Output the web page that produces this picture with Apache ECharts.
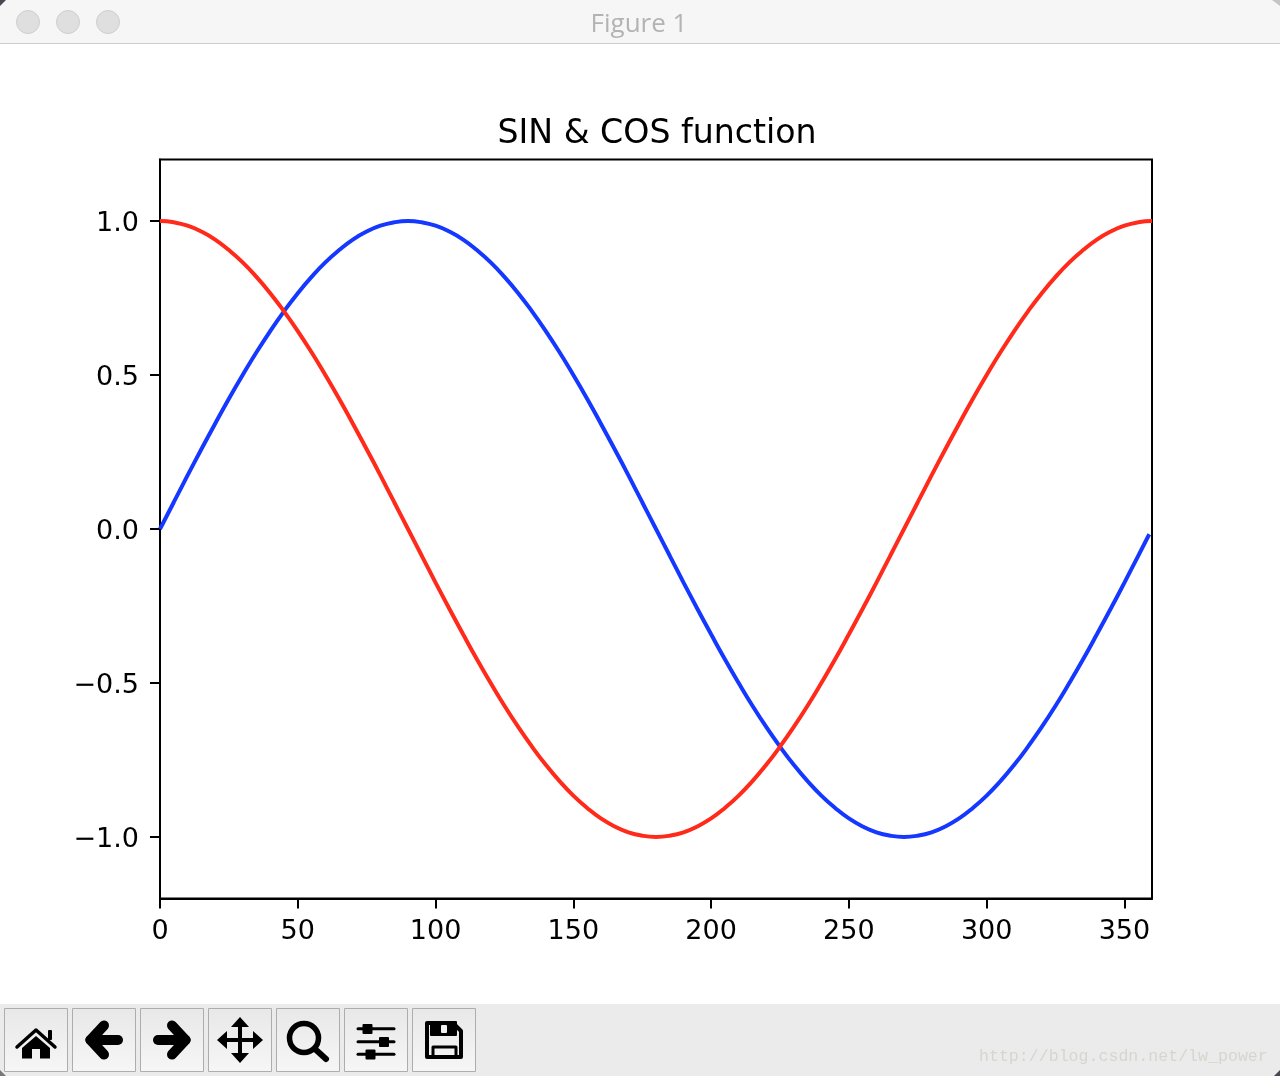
<!DOCTYPE html>
<html>
<head>
<meta charset="utf-8">
<title>SIN & COS function</title>
<script src="https://cdn.jsdelivr.net/npm/echarts@6/dist/echarts.min.js"></script>
<style>
  html, body { margin: 0; padding: 0; background: #fff; }
  #main { width: 1280px; height: 1076px; }
</style>
</head>
<body>
<div id="main"></div>
<script>
const angles = [0,5,10,15,20,25,30,35,40,45,50,55,60,65,70,75,80,85,90,95,100,105,110,115,120,125,130,135,140,145,150,155,160,165,170,175,180,185,190,195,200,205,210,215,220,225,230,235,240,245,250,255,260,265,270,275,280,285,290,295,300,305,310,315,320,325,330,335,340,345,350,355,359];
const sinValues = [0,.087,.174,.259,.342,.423,.5,.574,.643,.707,.766,.819,.866,.906,.94,.966,.985,.996,1,.996,.985,.966,.94,.906,.866,.819,.766,.707,.643,.574,.5,.423,.342,.259,.174,.087,0,-.087,-.174,-.259,-.342,-.423,-.5,-.574,-.643,-.707,-.766,-.819,-.866,-.906,-.94,-.966,-.985,-.996,-1,-.996,-.985,-.966,-.94,-.906,-.866,-.819,-.766,-.707,-.643,-.574,-.5,-.423,-.342,-.259,-.174,-.087,-.017];
const cosValues = [1,.996,.985,.966,.94,.906,.866,.819,.766,.707,.643,.574,.5,.423,.342,.259,.174,.087,0,-.087,-.174,-.259,-.342,-.423,-.5,-.574,-.643,-.707,-.766,-.819,-.866,-.906,-.94,-.966,-.985,-.996,-1,-.996,-.985,-.966,-.94,-.906,-.866,-.819,-.766,-.707,-.643,-.574,-.5,-.423,-.342,-.259,-.174,-.087,0,.087,.174,.259,.342,.423,.5,.574,.643,.707,.766,.819,.866,.906,.94,.966,.985,.996,1];
const xTicks = [0,50,100,150,200,250,300,350];
const yTicks = [-1,-0.5,0,0.5,1];

const font = '"DejaVu Sans"';
const buttonX = [4,72,140,208,276,344,412];

// 工具栏图标，坐标相对于按钮左上角
function line(points, w) {
  return { type: 'polyline', shape: { points: points }, style: { fill: 'none', stroke: '#000', lineWidth: w, lineCap: 'round', lineJoin: 'round' } };
}
function solid(points) {
  return { type: 'polygon', shape: { points: points }, style: { fill: '#000' } };
}
function box(x, y, w, h, fill) {
  return { type: 'rect', shape: { x: x, y: y, width: w, height: h, r: 1 }, style: { fill: fill || '#000' } };
}
const icons = [
  [ line([[13,39],[32,22],[51,39]], 3.5), box(44, 22, 4, 10),
    solid([[18,40],[32,28],[46,40],[46,50.5],[36,50.5],[36,41],[28,41],[28,50.5],[18,50.5]]) ],
  [ line([[32,17.5],[18.5,32],[32,46.5]], 10), line([[18.5,32],[46,32]], 10) ],
  [ line([[32,17.5],[45.5,32],[32,46.5]], 10), line([[45.5,32],[18,32]], 10) ],
  [ solid([[32,9],[41,19],[34,19],[34,30],[45,30],[45,23],[55,32],[45,41],[45,34],[34,34],[34,45],[41,45],[32,55],[23,45],[30,45],[30,34],[19,34],[19,41],[9,32],[19,23],[19,30],[30,30],[30,19],[23,19]]) ],
  [ { type: 'circle', shape: { cx: 28, cy: 30, r: 14.5 }, style: { fill: 'none', stroke: '#000', lineWidth: 5.5 } }, line([[39,41],[50,51]], 6) ],
  [ line([[14,20.7],[50,20.7]], 3), line([[14,33.7],[50,33.7]], 3), line([[14,46.3],[50,46.3]], 3),
    box(18.5, 16, 10, 10), box(35, 29, 10, 10), box(21.5, 41.5, 10, 10) ],
  [ line([[15,15],[41,15],[49,23],[49,49],[15,49],[15,15]], 4), box(18, 13, 27, 15), box(29, 17, 6, 8, '#f0f0f0'),
    line([[21,49],[21,39],[44,39],[44,49]], 3) ]
];

const chrome = [
  { type: 'rect', shape: { x: 0, y: 0, width: 1280, height: 43 }, style: { fill: '#f6f6f6' } },
  { type: 'rect', shape: { x: 0, y: 43, width: 1280, height: 1 }, style: { fill: '#cfcfcf' } },
  { type: 'rect', shape: { x: 0, y: 1004, width: 1280, height: 72 }, style: { fill: '#ebebeb' } },
  { type: 'polygon', shape: { points: [[0,0],[6,0],[0,6]] }, style: { fill: '#444a50' } },
  { type: 'polygon', shape: { points: [[1272,0],[1280,0],[1280,6]] }, style: { fill: '#c4c4c4' } },
  { type: 'polygon', shape: { points: [[0,1070],[0,1076],[6,1076]] }, style: { fill: '#777' } },
  { type: 'polygon', shape: { points: [[1280,1070],[1280,1076],[1274,1076]] }, style: { fill: '#444a50' } },
  { type: 'text', x: 639, y: 25, style: { text: 'Figure 1', font: '26px "Open Sans"', fill: '#b3b3b3', textAlign: 'center', textVerticalAlign: 'middle' } },
  { type: 'text', x: 979, y: 1057, style: { text: 'http://blog.csdn.net/lw_power', font: '16.6px "Liberation Mono"', fill: '#d6d6ce', textAlign: 'left', textVerticalAlign: 'middle' } }
];
[28, 68, 108].forEach(function (cx) {
  chrome.push({ type: 'circle', shape: { cx: cx, cy: 22, r: 11.5 }, style: { fill: '#dfdfdf', stroke: '#cfcfcf', lineWidth: 1 } });
});
buttonX.forEach(function (x, i) {
  chrome.push({ type: 'rect', shape: { x: x + 0.5, y: 1008.5, width: 63, height: 63 },
    style: { stroke: '#adadad', lineWidth: 1,
      fill: { type: 'linear', x: 0, y: 0, x2: 0, y2: 1, colorStops: [{ offset: 0, color: '#e8e8e8' }, { offset: 1, color: '#f6f6f6' }] } } });
  chrome.push({ type: 'group', x: x, y: 1008, children: icons[i] });
});

const option = {
  animation: false,
  title: {
    text: 'SIN & COS function',
    left: 652, top: 113, textAlign: 'center',
    textStyle: { fontFamily: font, fontWeight: 'normal', fontSize: 33.2, color: '#000' }
  },
  grid: { left: 160, top: 159.5, width: 992, height: 739, show: true, borderColor: '#000', borderWidth: 2, backgroundColor: '#fff' },
  xAxis: {
    type: 'value', min: 0, max: 360,
    splitLine: { show: false },
    axisLine: { onZero: false, lineStyle: { color: '#000', width: 2 } },
    axisTick: { length: 10, lineStyle: { color: '#000', width: 2 }, customValues: xTicks },
    axisLabel: { color: '#000', fontFamily: font, fontSize: 27, margin: 20, customValues: xTicks, showMinLabel: true, showMaxLabel: true }
  },
  yAxis: {
    type: 'value', min: -1.2, max: 1.2,
    splitLine: { show: false },
    axisLine: { show: true, onZero: false, lineStyle: { color: '#000', width: 2 } },
    axisTick: { show: true, length: 10, lineStyle: { color: '#000', width: 2 }, customValues: yTicks },
    axisLabel: { color: '#000', fontFamily: font, fontSize: 27, margin: 21, verticalAlign: 'top', lineHeight: 6, customValues: yTicks,
      formatter: function (v) { return v.toFixed(1).replace('-', '\u2212'); } }
  },
  series: [
    { name: 'sin', type: 'line', showSymbol: false, smooth: true, lineStyle: { color: '#1438ff', width: 4 },
      data: angles.map(function (a, i) { return [a, sinValues[i]]; }) },
    { name: 'cos', type: 'line', showSymbol: false, smooth: true, lineStyle: { color: '#ff2a1a', width: 4 },
      data: angles.map(function (a, i) { return [i === angles.length - 1 ? 360 : a, cosValues[i]]; }) }
  ],
  graphic: chrome
};

const chart = echarts.init(document.getElementById('main'));
chart.setOption(option);
</script>
</body>
</html>
